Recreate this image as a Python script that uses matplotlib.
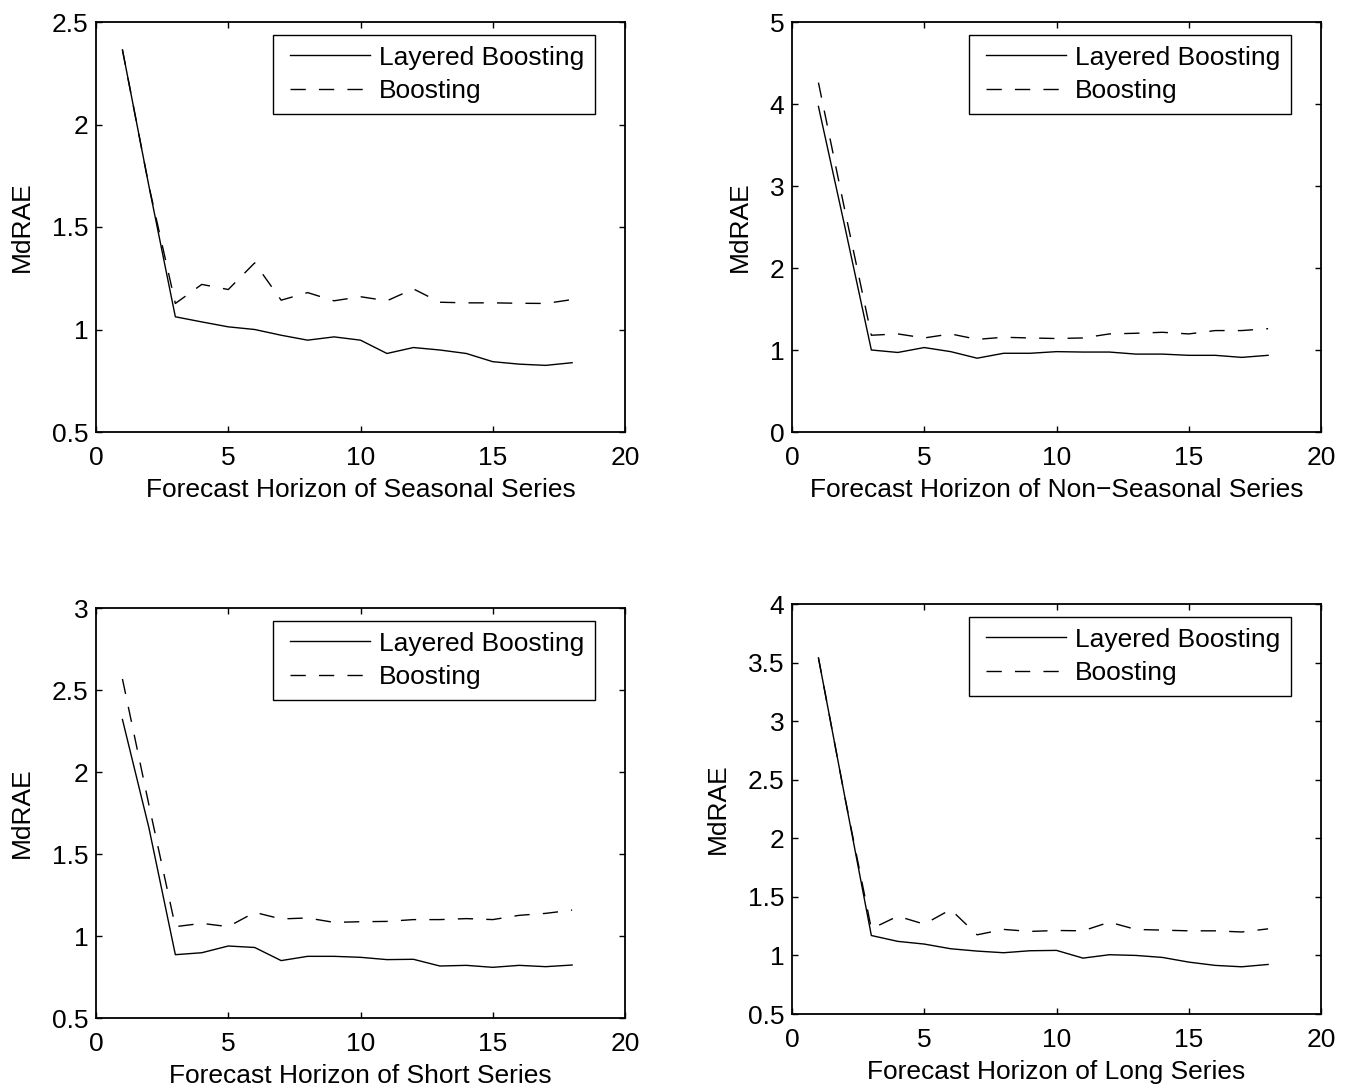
import matplotlib
matplotlib.use("Agg")
import matplotlib.pyplot as plt
from matplotlib.legend_handler import HandlerLine2D
from matplotlib.ticker import FormatStrFormatter

plt.rcParams["font.family"] = ["Liberation Sans", "DejaVu Sans"]

horizon = list(range(1, 19))

seasonal_layered = [2.364, 1.70, 1.062, 1.037, 1.013, 1.000, 0.972, 0.948, 0.964,
                    0.948, 0.883, 0.912, 0.900, 0.883, 0.843, 0.831, 0.825, 0.838]
seasonal_boost = [2.364, 1.70, 1.127, 1.220, 1.195, 1.325, 1.143, 1.180, 1.140,
                  1.160, 1.140, 1.198, 1.133, 1.130, 1.130, 1.128, 1.127, 1.146]

nonseasonal_layered = [3.97, 2.50, 1.00, 0.97, 1.03, 0.98, 0.90, 0.96, 0.96,
                       0.98, 0.975, 0.975, 0.95, 0.95, 0.935, 0.935, 0.91, 0.935]
nonseasonal_boost = [4.26, 2.70, 1.18, 1.196, 1.147, 1.196, 1.13, 1.155, 1.147,
                     1.14, 1.147, 1.196, 1.204, 1.216, 1.196, 1.237, 1.237, 1.26]

short_layered = [2.32, 1.66, 0.886, 0.898, 0.939, 0.930, 0.850, 0.876, 0.876,
                 0.870, 0.856, 0.858, 0.817, 0.821, 0.809, 0.821, 0.813, 0.823]
short_boost = [2.567, 1.80, 1.057, 1.077, 1.057, 1.144, 1.104, 1.110, 1.083,
               1.087, 1.089, 1.100, 1.100, 1.106, 1.100, 1.126, 1.138, 1.158]

long_layered = [3.54, 2.35, 1.17, 1.12, 1.097, 1.057, 1.037, 1.023, 1.040,
                1.043, 0.977, 1.006, 1.000, 0.983, 0.943, 0.915, 0.903, 0.923]
long_boost = [3.54, 2.35, 1.227, 1.335, 1.267, 1.392, 1.176, 1.222, 1.205,
              1.213, 1.210, 1.284, 1.222, 1.216, 1.210, 1.210, 1.200, 1.227]

panels = [
    ("Forecast Horizon of Seasonal Series", seasonal_layered, seasonal_boost,
     (0.5, 2.5), [0.5, 1, 1.5, 2, 2.5]),
    ("Forecast Horizon of Non\u2212Seasonal Series", nonseasonal_layered, nonseasonal_boost,
     (0, 5), [0, 1, 2, 3, 4, 5]),
    ("Forecast Horizon of Short Series", short_layered, short_boost,
     (0.5, 3), [0.5, 1, 1.5, 2, 2.5, 3]),
    ("Forecast Horizon of Long Series", long_layered, long_boost,
     (0.5, 4), [0.5, 1, 1.5, 2, 2.5, 3, 3.5, 4]),
]


class InsetLine(HandlerLine2D):
    """Legend line that leaves a small gap on the left of the handle box."""

    def get_xdata(self, legend, xdescent, ydescent, width, height, fontsize):
        xdata, xmarker = super().get_xdata(legend, xdescent, ydescent, width, height, fontsize)
        gap = 0.22 * fontsize
        xdata = [xdata[0] + gap, xdata[-1]]
        return xdata, xmarker


W, H = 1354, 1091
# axes boxes in pixels: left, top, right, bottom
boxes = [(96, 22, 625, 432), (792, 22, 1321, 432),
         (96, 608, 625, 1018), (792, 604, 1321, 1014)]

fig = plt.figure(figsize=(W / 100, H / 100), dpi=100)
FS = 19

for (xlabel, layered, boost, ylim, yticks), (l, t, r, b) in zip(panels, boxes):
    ax = fig.add_axes([l / W, 1 - b / H, (r - l) / W, (b - t) / H])
    ax.plot(horizon, layered, color="black", lw=1.0, label="Layered Boosting")
    ax.plot(horizon, boost, color="black", lw=1.0, dashes=(11, 9.5), label="Boosting")
    ax.set_xlim(0, 20)
    ax.set_ylim(*ylim)
    ax.set_xticks([0, 5, 10, 15, 20])
    ax.set_yticks(yticks)
    ax.yaxis.set_major_formatter(FormatStrFormatter("%g"))
    ax.tick_params(direction="in", length=4, width=1, top=True, right=True,
                   labelsize=FS)
    ax.tick_params(axis="y", pad=5.5)
    ax.tick_params(axis="x", pad=10)
    for s in ax.spines.values():
        s.set_linewidth(1.3)
    ax.set_xlabel(xlabel, fontsize=FS, labelpad=6)
    ax.set_ylabel("MdRAE", fontsize=FS, labelpad=13)
    leg = ax.legend(loc="upper right", bbox_to_anchor=(0.943, 0.968), fontsize=FS,
                    handlelength=3.27, handletextpad=0.34, labelspacing=0.37,
                    borderpad=0.4, borderaxespad=0, fancybox=False, framealpha=1,
                    handler_map={matplotlib.lines.Line2D: InsetLine()})
    leg.get_frame().set_edgecolor("black")
    leg.get_frame().set_linewidth(1.0)

fig.savefig("out.png", dpi=100)
